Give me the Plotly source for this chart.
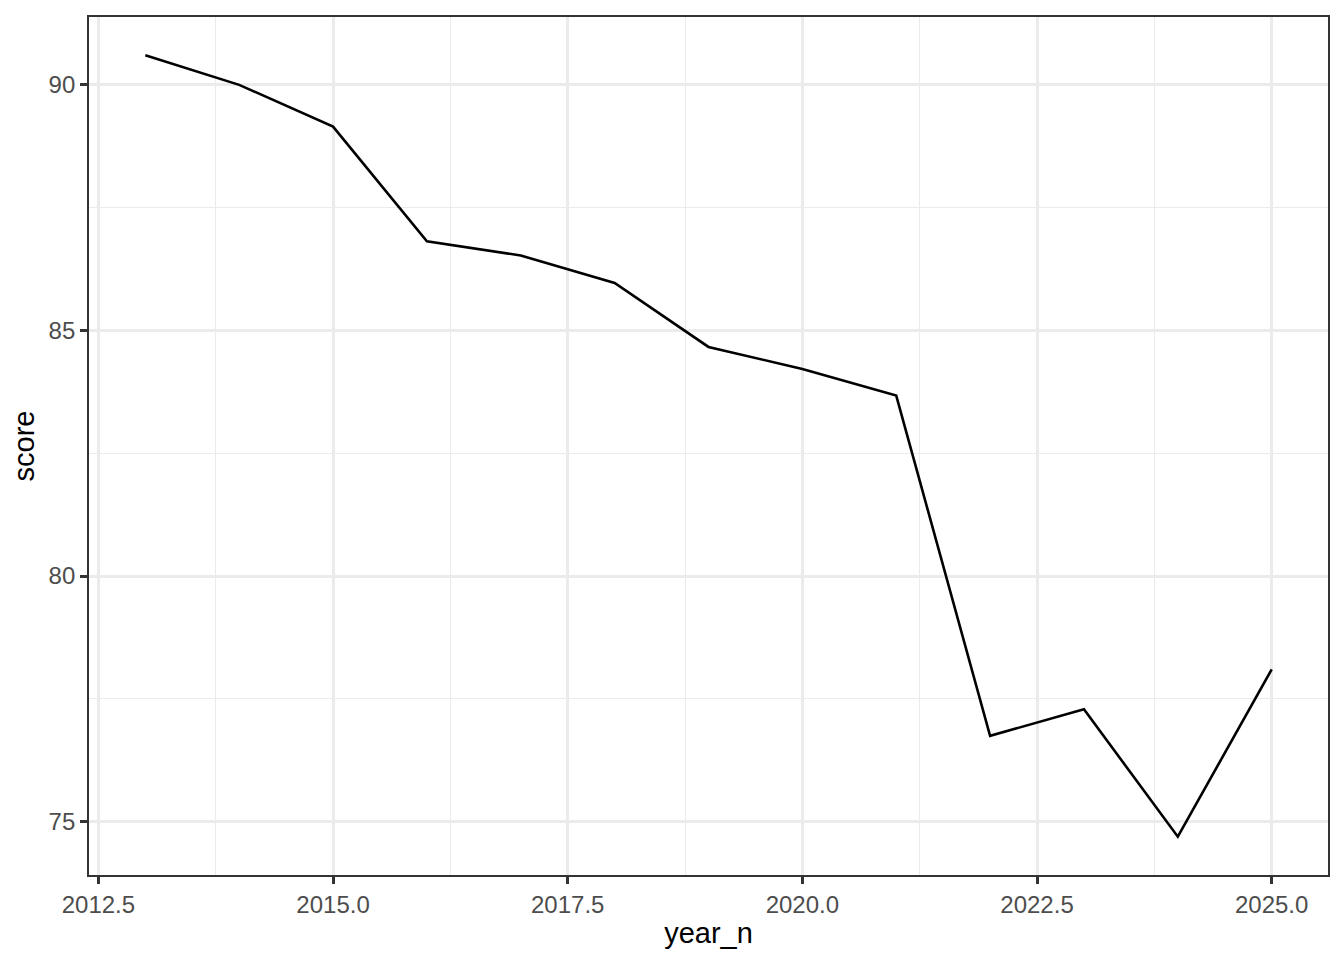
import plotly.graph_objects as go

years = [2013, 2014, 2015, 2016, 2017, 2018, 2019, 2020, 2021, 2022, 2023, 2024, 2025]
scores = [90.59, 89.99, 89.14, 86.81, 86.52, 85.96, 84.66, 84.21, 83.67, 76.75, 77.29, 74.70, 78.10]

fig = go.Figure()
fig.add_trace(go.Scatter(x=years, y=scores, mode="lines",
                         line=dict(color="black", width=2.6), showlegend=False,
                         hoverinfo="x+y"))

font_family = "Liberation Sans, Arial, Helvetica, sans-serif"
axis_common = dict(
    showline=True, mirror=True, linecolor="#333333", linewidth=1.8,
    ticks="outside", ticklen=7, tickwidth=2.6, tickcolor="#333333",
    showgrid=True, gridcolor="#EBEBEB", gridwidth=2.6,
    zeroline=False,
    tickfont=dict(family=font_family, size=24, color="#4D4D4D"),
)

fig.update_layout(
    width=1344, height=960,
    margin=dict(l=81, r=24, t=7, b=93),
    paper_bgcolor="white", plot_bgcolor="white",
    font=dict(family=font_family),
    xaxis=dict(
        range=[2012.4, 2025.6], tick0=2012.5, dtick=2.5, tickformat=".1f",
        minor=dict(tick0=2012.5, dtick=1.25, showgrid=True, gridcolor="#EBEBEB", gridwidth=1.3, ticks=""),
        title=dict(text="year_n", font=dict(family=font_family, size=29, color="black"), standoff=6),
        **axis_common,
    ),
    yaxis=dict(
        range=[73.92, 91.37], tick0=75, dtick=5,
        minor=dict(tick0=75, dtick=2.5, showgrid=True, gridcolor="#EBEBEB", gridwidth=1.3, ticks=""),
        title=dict(text="score", font=dict(family=font_family, size=29, color="black"), standoff=6),
        **axis_common,
    ),
)

fig.write_html("out.html")
